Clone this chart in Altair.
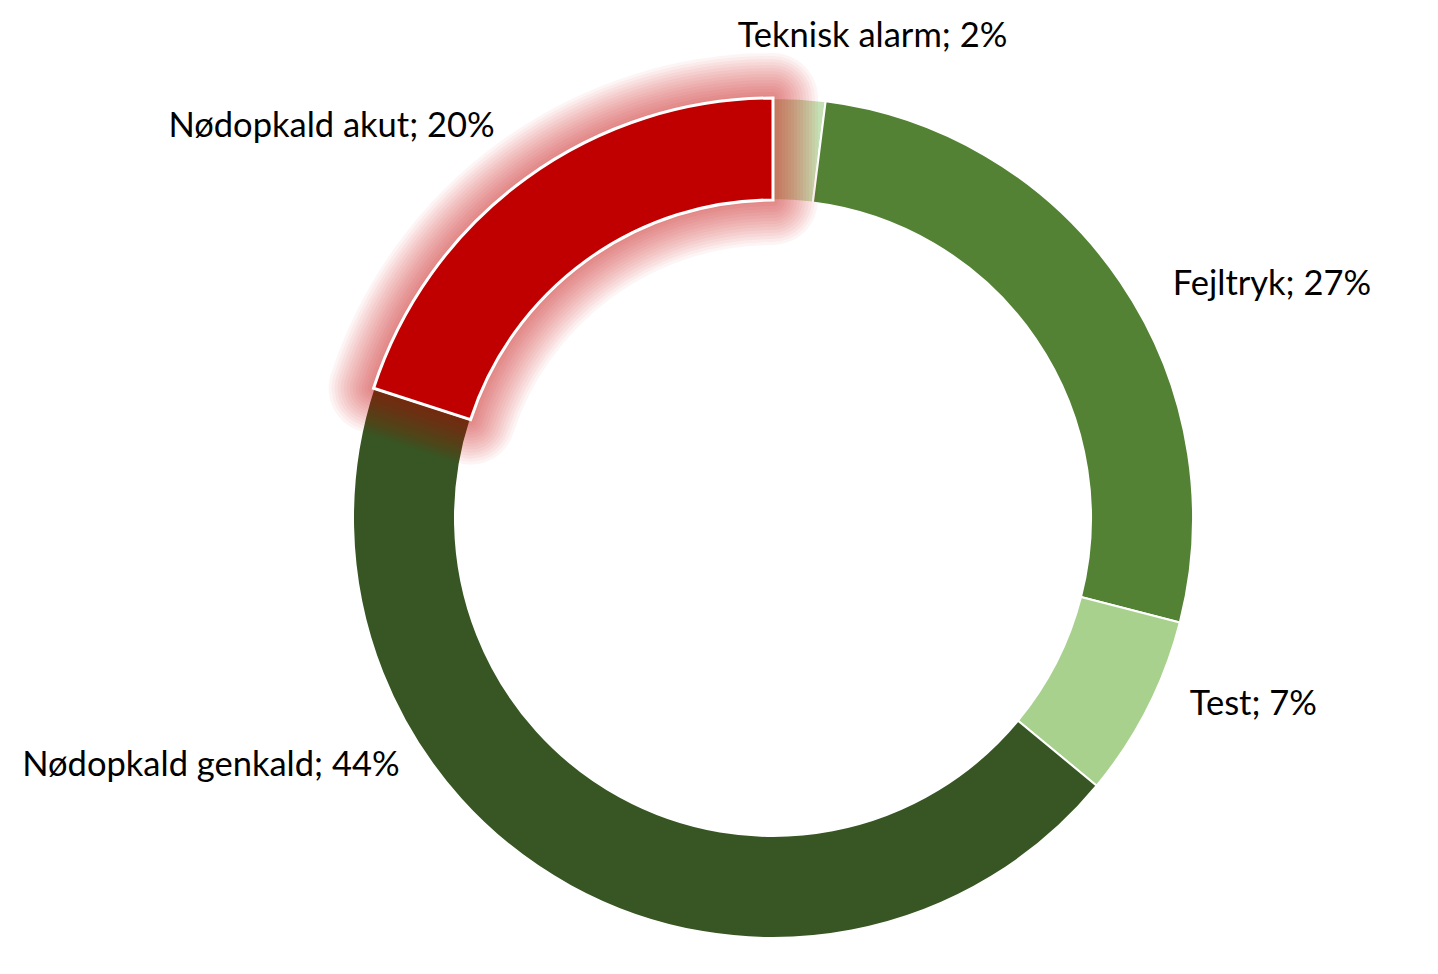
import altair as alt
import pandas as pd

categories = ["Teknisk alarm", "Fejltryk", "Test", "Nødopkald genkald", "Nødopkald akut"]
values = [2, 27, 7, 44, 20]
colors = ["#C5E0B4", "#548235", "#A9D18E", "#375623", "#C00000"]

df = pd.DataFrame({"category": categories, "value": values, "order": list(range(len(categories)))})

base = alt.Chart(df).transform_stack(
    stack="value", groupby=[], as_=["v0", "v1"], sort=[alt.SortField("order")]
).transform_calculate(
    mid="(datum.v0 + datum.v1) / 2",
    label="datum.category + '; ' + datum.value + '%'",
)

theta_scale = alt.Scale(domain=[0, 100])
color_scale = alt.Scale(domain=categories, range=colors)

R_OUT, R_IN = 420, 318

ring = base.mark_arc(radius=R_OUT, radius2=R_IN, stroke="white", strokeWidth=2).encode(
    theta=alt.Theta("v0:Q", scale=theta_scale),
    theta2="v1:Q",
    color=alt.Color("category:N", scale=color_scale, legend=None),
)

akut = base.transform_filter(alt.datum.category == "Nødopkald akut")

glow_layers = []
for w in range(90, 0, -6):
    glow_layers.append(
        akut.mark_arc(
            radius=R_OUT, radius2=R_IN, fillOpacity=0, stroke="#C00000",
            strokeOpacity=0.04, strokeWidth=w, strokeJoin="round",
        ).encode(
            theta=alt.Theta("v0:Q", scale=theta_scale),
            theta2="v1:Q",
        )
    )

akut_top = akut.mark_arc(radius=R_OUT, radius2=R_IN, stroke="white", strokeWidth=3).encode(
    theta=alt.Theta("v0:Q", scale=theta_scale),
    theta2="v1:Q",
    color=alt.Color("category:N", scale=color_scale, legend=None),
)

label_style = {
    "Teknisk alarm": dict(align="center", dx=70, dy=-12),
    "Fejltryk": dict(align="left", dx=11, dy=31),
    "Test": dict(align="left", dx=-2, dy=-26),
    "Nødopkald genkald": dict(align="right", dx=-147, dy=-164),
    "Nødopkald akut": dict(align="right", dx=-2, dy=-11),
}

text_layers = []
for cat in categories:
    st = label_style[cat]
    text_layers.append(
        base.transform_filter(alt.datum.category == cat).mark_text(
            radius=470, baseline="middle", font="Lato", fontSize=34.5, color="black", **st
        ).encode(
            theta=alt.Theta("mid:Q", scale=theta_scale),
            text="label:N",
        )
    )

chart = alt.layer(ring, *glow_layers, akut_top, *text_layers).properties(
    width=1314,
    height=896,
    padding={"left": 108, "top": 62, "right": 0, "bottom": 0},
    autosize=alt.AutoSizeParams(type="none"),
).configure_view(stroke=None)

chart.save("out.html", embed_options={"renderer": "svg", "actions": False})
